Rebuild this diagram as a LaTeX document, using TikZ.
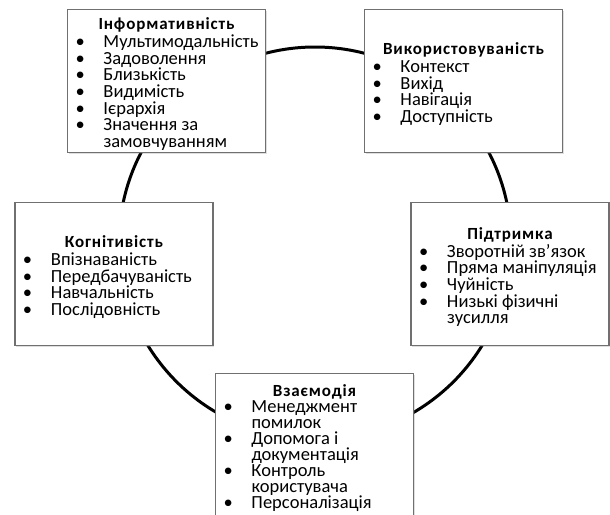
\documentclass[tikz,border=0pt]{standalone}
\usepackage{fontspec}
\setmainfont{Carlito}
\usetikzlibrary{positioning,shadows}
\definecolor{BoxEdge}{RGB}{112,112,112}
\hyphenpenalty=10000
\lineskiplimit=-20pt
\tikzset{
  panel/.style = {draw=BoxEdge, line width=1.1pt, fill=white,
                  minimum width=198pt, minimum height=143pt,
                  inner xsep=8pt, inner ysep=0pt, text width=182pt,
                  align=flush left, font=\fontsize{18.5}{16.6}\selectfont,
                  drop shadow={opacity=0.25, shadow xshift=1.2pt, shadow yshift=-1.2pt}},
  ring/.style  = {line width=3pt, black}
}
\newcommand{\hdr}[2][1.4pt]{{\centering\fontsize{17}{16.6}\selectfont\bfseries
  \addfontfeatures{LetterSpace=5}\rule{0pt}{18pt}#2\par}\vspace{#1}}
\newcommand{\bitem}[1]{\par\hangindent=28pt\hangafter=1\noindent\makebox[28pt][l]{\textbullet}#1\par}

\begin{document}
\begin{tikzpicture}[x=1pt, y=-1pt]
\useasboundingbox (0,0) rectangle (610,514);
\draw[ring] (315,243) circle[radius=196pt];
% the five groups on the ring
\node[panel] (info) at (166.5,81) {\hdr{Інформативність}
  \bitem{Мультимодальність}
  \bitem{Задоволення}
  \bitem{Близькість}
  \bitem{Видимість}
  \bitem{Ієрархія}
  \bitem{Значення за\newline замовчуванням}};
\node[panel] (usab) at (463.5,81) {\hdr{Використовуваність}
  \bitem{Контекст}
  \bitem{Вихід}
  \bitem{Навігація}
  \bitem{Доступність}};
\node[panel] (cogn) at (114,274) {\hdr{Когнітивість}
  \bitem{Впізнаваність}
  \bitem{Передбачуваність}
  \bitem{Навчальність}
  \bitem{Послідовність}};
\node[panel] (supp) at (510,274) {\hdr{Підтримка}
  \bitem{Зворотній зв’язок}
  \bitem{Пряма маніпуляція}
  \bitem{Чуйність}
  \bitem{Низькі фізичні\newline зусилля}};
\node[panel, font=\fontsize{18.5}{16.1}\selectfont] (inter) at (314.5,445) {\hdr[0pt]{Взаємодія}
  \bitem{Менеджмент\newline помилок}
  \bitem{Допомога і\newline документація}
  \bitem{Контроль\newline користувача}
  \bitem{Персоналізація}};
\end{tikzpicture}
\end{document}
